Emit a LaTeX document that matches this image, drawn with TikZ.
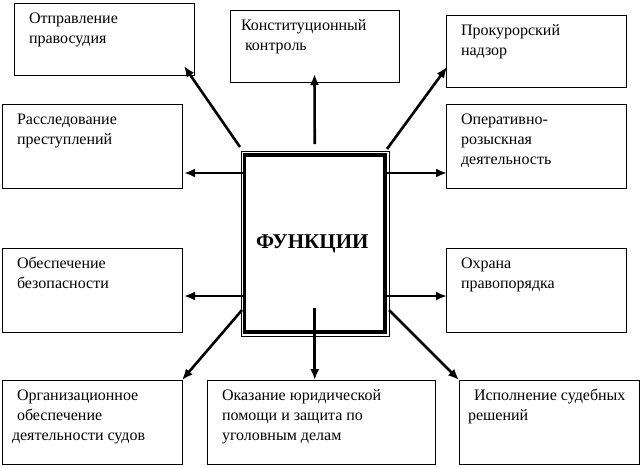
\documentclass[tikz,border=0pt]{standalone}
\usepackage{fontspec}
\setmainfont{Liberation Serif}
\usetikzlibrary{arrows.meta}
\newcommand{\fntext}[3]{\parbox[c][#2][t]{#1}{\raggedright\leftskip=15pt\fontsize{16pt}{20pt}\selectfont\rule{0pt}{20pt}#3}}
\tikzset{
	fnbox/.style={draw, line width=0.9pt, inner sep=0pt, outer sep=0pt, anchor=north west},
	core/.style={draw, line width=3.8pt, inner sep=0pt, outer sep=0pt, minimum width=140.5pt, minimum height=177pt, font=\fontsize{21pt}{24pt}\selectfont\bfseries},
	arr/.style={->, line width=2.6pt}
}
\begin{document}
\begin{tikzpicture}[x=1pt,y=-1pt,>={Latex[length=11pt,width=9pt]}]
			\useasboundingbox (0,0) rectangle (642,467);
			% boxes
			\node[fnbox] (o1) at (14,3) {\fntext{180pt}{72pt}{Отправление\\правосудия}};
			\node[fnbox] (o2) at (230,10) {\fntext{169pt}{72pt}{\hspace*{-4pt}Конституционный\\ контроль}};
			\node[fnbox] (o3) at (446,15) {\fntext{180pt}{72pt}{Прокурорский\\надзор}};
			\node[fnbox] (o4) at (2,104) {\fntext{180pt}{84pt}{Расследование\\преступлений}};
			\node[fnbox] (o5) at (446,104) {\fntext{180pt}{84pt}{Оперативно-\\розыскная\\деятельность}};
			\node[fnbox] (o6) at (2,248) {\fntext{180pt}{84pt}{Обеспечение\\безопасности}};
			\node[fnbox] (o7) at (446,248) {\fntext{180pt}{84pt}{Охрана\\правопорядка}};
			\node[fnbox] (o8) at (2,380) {\fntext{180pt}{84pt}{Организационное\\ обеспечение\\\hspace*{-5pt}деятельности судов}};
			\node[fnbox] (o9) at (207,380) {\fntext{228pt}{84pt}{Оказание юридической\\помощи и защита по\\уголовным делам}};
			\node[fnbox] (o10) at (459,380) {\fntext{180pt}{84pt}{Исполнение судебных\\\hspace*{-6pt}решений}};
			% centre
			\node[core] (fn) at (314.75,243.5) {\hspace*{-5pt}\raisebox{-5pt}{ФУНКЦИИ}};
			\draw[line width=1pt] ([shift={(-3.5pt,3.5pt)}]fn.north west) rectangle ([shift={(4pt,-4pt)}]fn.south east);
			% arrows
			\draw[arr] ([shift={(-4.5pt,8pt)}]fn.north west) -- ([shift={(-10pt,9pt)}]o1.south east);
			\draw[arr] ([yshift=11pt]fn.north) -- ([yshift=8pt]o2.south);
			\draw[arr] ([shift={(2pt,6pt)}]fn.north east) -- ([shift={(1pt,20pt)}]o3.south west);
			\draw[arr] ([shift={(-2pt,-18pt)}]fn.north west) -- ([shift={(2pt,-27pt)}]o4.east);
			\draw[arr] ([shift={(2pt,-18pt)}]fn.north east) -- ([shift={(1pt,-27pt)}]o5.west);
			\draw[arr] ([shift={(-2pt,36pt)}]fn.south west) -- ([shift={(2pt,-6pt)}]o6.east);
			\draw[arr] ([shift={(2pt,36pt)}]fn.south east) -- ([shift={(1pt,-6pt)}]o7.west);
			\draw[arr] ([shift={(-2.5pt,22pt)}]fn.south west) -- (o8.north east);
			\draw[arr] ([yshift=24pt]fn.south) -- (fn.south |- o9.north);
			\draw[arr] ([shift={(4pt,22pt)}]fn.south east) -- (o10.north west);
\end{tikzpicture}
\end{document}
